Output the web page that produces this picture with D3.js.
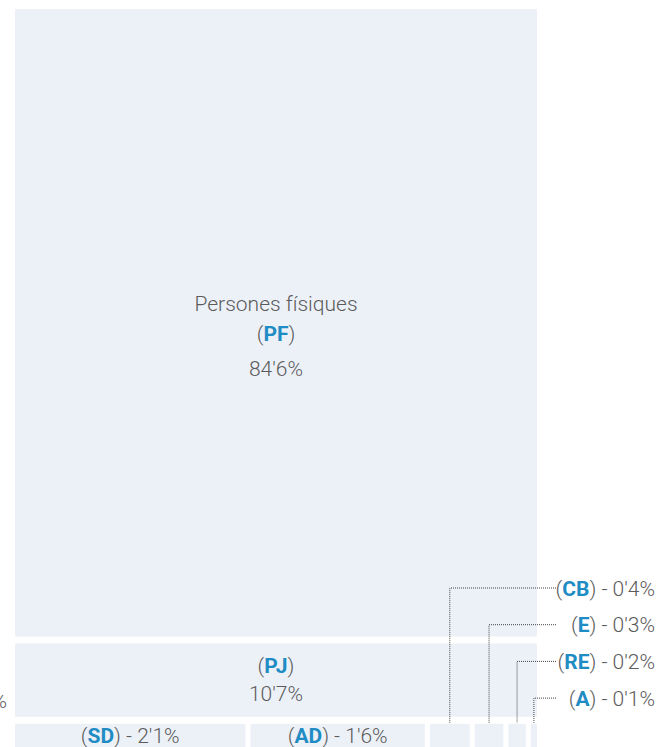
<!DOCTYPE html>
<html>
<head>
<meta charset="utf-8">
<script src="https://cdn.jsdelivr.net/npm/d3@7"></script>
<style>
  body { margin: 0; background: #fff; }
  svg { display: block; font-family: Roboto, "Noto Sans", sans-serif; font-weight: 300; }
  .lbl { fill: #5b5b5b; font-size: 21px; }
  .code { fill: #1f8cc4; font-weight: 700; }
</style>
</head>
<body>
<div class="chart"></div>
<script>
// data: share of each kind of holder (%)
var codes = ["PF", "PJ", "SD", "AD", "CB", "E", "RE", "A"];
var names = ["Persones físiques", "", "", "", "", "", "", ""];
var values = [84.6, 10.7, 2.1, 1.6, 0.4, 0.3, 0.2, 0.1];
var bottomRow = ["SD", "AD", "CB", "E", "RE", "A"];

var svgWidth = 659;
var svgHeight = 747;
var margin = { top: 9, left: 15 };
var width = 522;
var height = 743;

var svg = d3.select(".chart")
    .append("svg")
    .attr("width", svgWidth)
    .attr("height", svgHeight);

var chart = svg.append("g")
    .attr("transform", "translate(" + margin.left + "," + margin.top + ")");

var items = codes.map(function(c, i) {
    return { code: c, name: names[i], value: values[i] };
});

// PF and PJ stacked, the rest side by side in the last row
var tree = {
    children: items.filter(function(d) { return bottomRow.indexOf(d.code) < 0; })
        .concat([{ code: "row", children: items.filter(function(d) { return bottomRow.indexOf(d.code) >= 0; }) }])
};

var root = d3.hierarchy(tree).sum(function(d) { return d.children ? 0 : d.value; });

d3.treemap()
    .size([width, height])
    .paddingInner(function(d) { return d.depth === 0 ? 7 : 5; })
    .tile(function(node, x0, y0, x1, y1) {
        (node.depth === 0 ? d3.treemapSlice : d3.treemapDice)(node, x0, y0, x1, y1);
    })(root);

var leaves = root.leaves();
var fmt = function(v) { return d3.format(".1f")(v).replace(".", "'") + "%"; };

chart.selectAll("rect.cell")
    .data(leaves)
    .enter().append("rect")
    .attr("class", "cell")
    .attr("x", function(d) { return d.x0; })
    .attr("y", function(d) { return d.y0; })
    .attr("width", function(d) { return d.x1 - d.x0; })
    .attr("height", function(d) { return d.y1 - d.y0; })
    .attr("fill", "#ecf1f8");

function codeText(sel, d, suffix) {
    sel.append("tspan").text("(");
    sel.append("tspan").attr("class", "code").text(d.data.code);
    sel.append("tspan").text(")" + suffix);
}

// big cells: name / (code) / value on separate lines
leaves.filter(function(d) { return d.depth === 1; }).forEach(function(d) {
    var cx = (d.x0 + d.x1) / 2;
    var cy = (d.y0 + d.y1) / 2;
    var lines = d.data.name ? [-12, 18, 53] : [-7, 21];
    var k = 0;
    if (d.data.name) {
        chart.append("text").attr("class", "lbl").attr("text-anchor", "middle")
            .attr("x", cx).attr("y", cy + lines[k++]).text(d.data.name);
    }
    var t = chart.append("text").attr("class", "lbl").attr("text-anchor", "middle")
        .attr("x", cx).attr("y", cy + lines[k++]);
    codeText(t, d, "");
    chart.append("text").attr("class", "lbl").attr("text-anchor", "middle")
        .attr("x", cx).attr("y", cy + lines[k++]).text(fmt(d.data.value));
});

// last row: wide cells labelled inside, narrow ones with leader lines
var rowCells = leaves.filter(function(d) { return d.depth === 2; });
var wide = rowCells.filter(function(d) { return d.x1 - d.x0 > 60; });
var narrow = rowCells.filter(function(d) { return d.x1 - d.x0 <= 60; });

wide.forEach(function(d) {
    var t = chart.append("text").attr("class", "lbl").attr("text-anchor", "middle")
        .attr("x", (d.x0 + d.x1) / 2).attr("y", d.y0 + 19);
    codeText(t, d, " - " + fmt(d.data.value));
});

var labelRight = 655 - margin.left;
var lineEnd = 556 - margin.left;
narrow.forEach(function(d, i) {
    var ly = 588 - margin.top + i * 36.7;
    var cx = (d.x0 + d.x1) / 2;
    var t = chart.append("text").attr("class", "lbl").attr("text-anchor", "end")
        .attr("x", labelRight).attr("y", ly).attr("dy", "0.36em");
    codeText(t, d, " - " + fmt(d.data.value));
    chart.append("path")
        .attr("d", "M" + lineEnd + "," + ly + "H" + cx + "V" + (d.y0 - 1))
        .attr("fill", "none")
        .attr("stroke", "#444")
        .attr("stroke-width", 1)
        .attr("stroke-dasharray", "1,1");
});

// label clipped at the left edge, as in the original
svg.append("text").attr("class", "lbl").attr("text-anchor", "end")
    .attr("x", 7).attr("y", 708).text("%");
</script>
</body>
</html>
